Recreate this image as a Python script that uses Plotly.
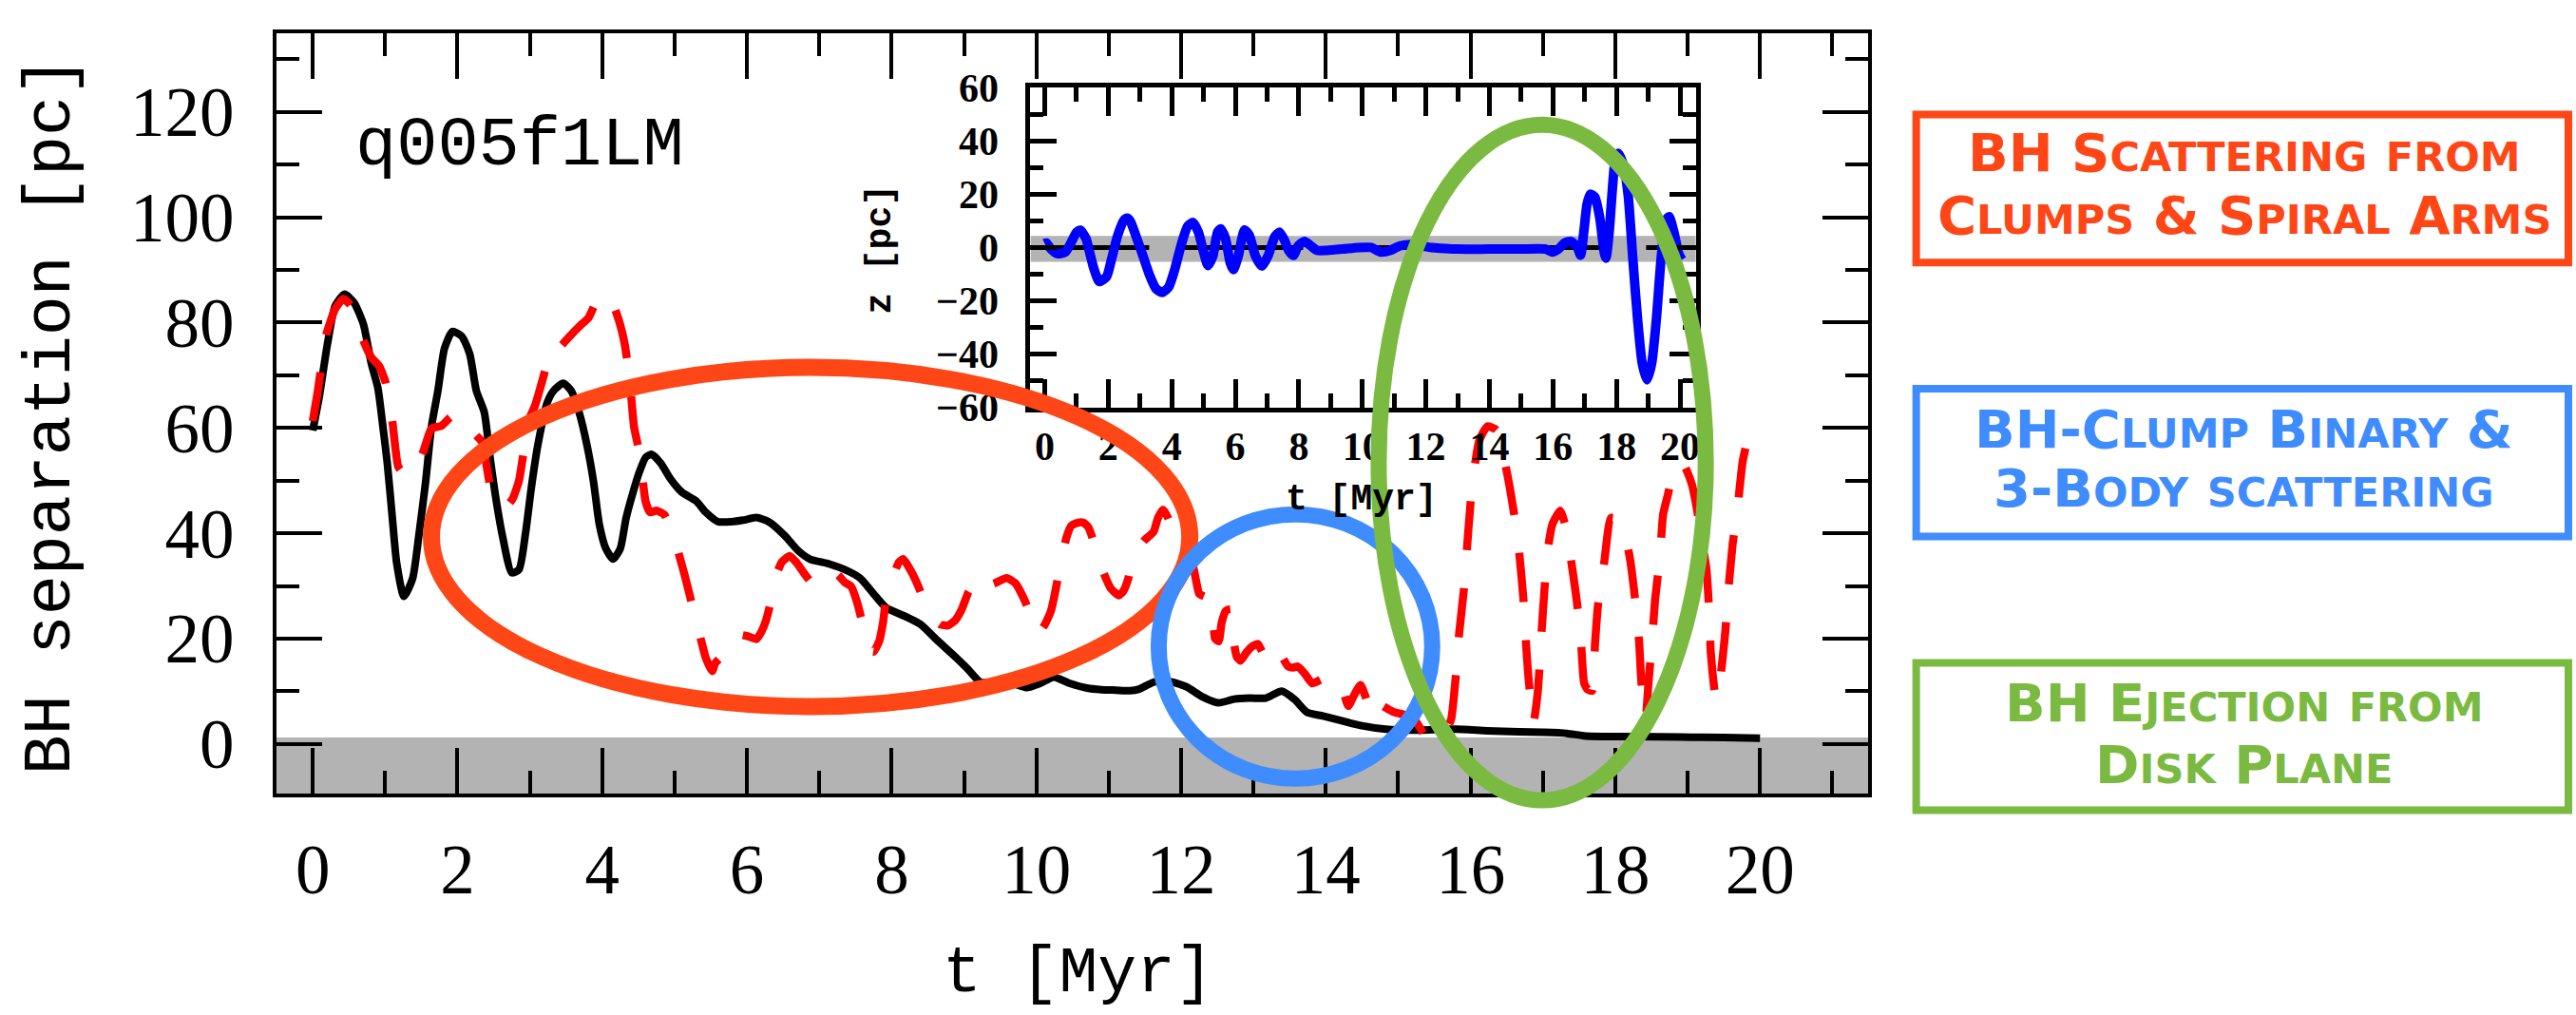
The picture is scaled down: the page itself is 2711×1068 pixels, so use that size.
import plotly.graph_objects as go

W, H = 2711, 1068

# ---------------- data ----------------
t_black = [0.0, 0.09, 0.2, 0.31, 0.44, 0.57, 0.70, 0.81, 0.90, 0.97, 1.03, 1.10, 1.16, 1.26, 1.38,
           1.47, 1.56, 1.64, 1.73, 1.82, 1.93, 2.06, 2.17, 2.26, 2.37, 2.45, 2.54, 2.63, 2.75, 2.85,
           2.94, 3.02, 3.11, 3.24, 3.33, 3.46, 3.57, 3.68, 3.79, 3.88, 3.96, 4.05, 4.15, 4.25, 4.33,
           4.42, 4.51, 4.60, 4.68, 4.81, 4.94, 5.10, 5.30, 5.43, 5.60, 5.78, 5.95, 6.13, 6.30, 6.52,
           6.70, 6.87, 7.13, 7.40, 7.57, 7.75, 7.92, 8.19, 8.40, 8.62, 8.89, 9.06, 9.23, 9.45, 9.67,
           9.87, 10.05, 10.24, 10.46, 10.70, 10.90, 11.10, 11.29, 11.42, 11.55, 11.64, 11.86, 12.08,
           12.30, 12.52, 12.73, 12.95, 13.17, 13.39, 13.57, 13.74, 13.96, 14.22, 14.48, 14.83, 15.18,
           15.50, 15.80, 16.23, 16.67, 17.00, 17.33, 17.59, 18.25, 18.90, 19.50, 20.0]
sep_black = [59.5, 65.9, 75.7, 83.2, 85.4, 83.8, 79.7, 72.2, 67.6, 60.2, 53.3, 42.9, 34.3, 28.0, 31.4,
             40.0, 49.8, 60.2, 67.1, 75.1, 78.3, 77.4, 74.0, 67.1, 63.0, 54.4, 45.8, 38.9, 32.5, 33.1,
             40.0, 48.6, 56.7, 64.8, 67.1, 68.5, 67.1, 63.0, 56.7, 49.8, 41.7, 37.1, 35.1, 37.1, 42.9,
             47.5, 51.5, 54.4, 55.0, 53.3, 50.4, 47.8, 46.1, 44.0, 42.2, 42.2, 42.5, 43.0, 42.2, 39.6,
             36.8, 35.1, 34.2, 32.8, 31.4, 28.5, 25.9, 24.2, 22.7, 19.8, 16.4, 14.1, 11.7, 11.8, 11.5,
             10.7, 11.5, 12.7, 11.5, 10.6, 10.3, 10.2, 10.1, 10.4, 11.3, 11.8, 11.8, 10.8,
             8.9, 7.8, 8.5, 8.7, 8.7, 10.0, 8.4, 6.0, 5.3, 4.4, 3.5, 2.8, 2.6,
             2.7, 2.8, 2.5, 2.3, 2.2, 2.0, 1.5, 1.4, 1.3, 1.2, 1.1]

t_red = [0.0, 0.07, 0.18, 0.31, 0.42, 0.53, 0.70, 0.81, 0.92, 1.01, 1.10, 1.18, 1.25, 1.40, 1.50,
         1.64, 1.78, 1.90, 1.99, 2.12, 2.23, 2.34, 2.45, 2.56, 2.65, 2.76, 2.85, 2.92, 2.98, 3.07,
         3.22, 3.28, 3.37, 3.44, 3.53, 3.70, 3.81, 3.90, 3.98, 4.07, 4.16, 4.24, 4.31, 4.38, 4.44,
         4.51, 4.55, 4.60, 4.66, 4.75, 4.86, 5.00, 5.07, 5.14, 5.30, 5.37, 5.43, 5.52, 5.56, 5.67,
         5.71, 5.80, 5.91, 6.02, 6.13, 6.20, 6.26, 6.30, 6.36, 6.41, 6.48, 6.59, 6.68, 6.77, 6.90,
         7.05, 7.14, 7.24, 7.35, 7.44, 7.52, 7.59, 7.68, 7.75, 7.83, 7.88, 7.92, 8.03, 8.10, 8.16,
         8.26, 8.36, 8.47, 8.56, 8.67, 8.78, 8.88, 8.97, 9.06, 9.14, 9.21, 9.28, 9.42, 9.59, 9.71,
         9.84, 9.93, 10.02, 10.11, 10.20, 10.24, 10.29, 10.33, 10.42, 10.48, 10.57, 10.65, 10.72,
         10.81, 10.92, 11.03, 11.14, 11.20, 11.27, 11.33, 11.48, 11.62, 11.68, 11.75, 11.82, 11.88,
         12.00, 12.14, 12.21, 12.25, 12.34, 12.41, 12.47, 12.52, 12.56, 12.62, 12.69, 12.72, 12.77,
         12.82, 12.91, 12.97, 13.06, 13.12, 13.17, 13.28, 13.32, 13.39, 13.48, 13.55, 13.61, 13.70,
         13.81, 13.93, 14.05, 14.16, 14.24, 14.31, 14.40, 14.48, 14.55, 14.62, 14.70, 14.79, 14.95,
         15.10, 15.23, 15.32, 15.38, 15.45, 15.55, 15.65, 15.73, 15.80, 15.84, 15.91, 15.95, 16.00,
         16.06, 16.12, 16.23, 16.36, 16.49, 16.60, 16.67, 16.73, 16.76, 16.80, 16.87, 16.93, 16.98,
         17.02, 17.07, 17.13, 17.24, 17.30, 17.37, 17.46, 17.52, 17.57, 17.62, 17.68, 17.72, 17.76,
         17.85, 17.94, 18.05, 18.11, 18.20, 18.27, 18.33, 18.36, 18.42, 18.46, 18.51, 18.55, 18.62,
         18.66, 18.73, 18.81, 18.92, 19.00, 19.06, 19.12, 19.17, 19.26, 19.30, 19.32, 19.39, 19.45,
         19.52, 19.56, 19.62, 19.69, 19.76, 19.84, 19.91, 20.00]
sep_red = [61.3, 67.0, 77.4, 82.6, 84.5, 83.2, 76.6, 73.4, 71.7, 68.5, 61.3, 52.7, 51.5, 55.5, 54.8,
           59.9, 60.4, 62.0, 62.5, 61.9, 59.0, 57.3, 49.2, 46.1, 44.8, 46.5, 50.0, 56.0, 61.3, 64.2,
           71.4, 75.1, 74.8, 75.7, 77.1, 79.5, 80.9, 83.5, 84.9, 85.4, 83.2, 80.0, 76.0, 69.1, 60.2,
           55.6, 51.2, 46.0, 44.0, 44.3, 43.5, 38.9, 35.5, 32.0, 23.3, 19.5, 16.4, 13.8, 15.3, 17.0,
           19.3, 20.2, 20.7, 20.4, 19.9, 21.3, 23.3, 25.3, 29.0, 32.2, 34.5, 35.7, 34.5, 32.8, 30.5,
           29.6, 30.7, 32.2, 30.7, 29.9, 27.0, 23.3, 18.0, 17.5, 19.6, 23.0, 27.1, 32.2, 34.5, 35.1,
           33.0, 30.2, 26.5, 24.2, 22.7, 22.5, 23.5, 25.6, 28.8, 30.5, 31.7, 30.0, 30.5, 31.5, 30.5,
           27.2, 24.0, 21.0, 22.5, 25.2, 27.5, 31.0, 34.3, 39.4, 41.4, 42.0, 42.0, 41.1,
           37.7, 32.8, 29.5, 28.2, 29.0, 31.4, 35.4, 38.5, 40.3, 42.9, 44.5, 42.9, 40.6,
           37.5, 35.1, 30.8, 28.5, 27.9, 27.3, 20.0, 19.5, 23.0, 25.3, 25.6, 20.0, 16.5,
           15.8, 17.5, 18.4, 19.0, 17.5, 16.7, 17.5, 18.7, 16.7, 14.7, 14.5, 14.7, 13.5,
           11.5, 12.2, 12.9, 12.4, 10.1, 7.2, 9.5, 11.2, 8.9, 6.0, 8.3, 7.2, 6.0,
           5.5, 4.6, 2.6, 1.2, 2.5, 1.8, 2.5, 4.6, 13.6, 20.7, 29.6, 37.1, 45.8,
           53.0, 57.6, 60.3, 59.6, 52.4, 43.8, 36.6, 27.6, 20.4, 12.7, 4.0, 10.0, 21.0,
           29.1, 37.1, 41.7, 44.3, 42.0, 36.6, 28.0, 20.8, 11.5, 10.3, 10.1, 19.0, 26.2,
           34.8, 42.9, 42.6, 41.1, 35.4, 27.9, 19.3, 11.8, 5.0, 11.8, 19.9, 27.4, 36.0,
           43.5, 47.5, 52.1, 53.5, 51.5, 49.2, 45.2, 40.9, 33.1, 24.5, 17.3, 8.5, 12.4,
           21.3, 28.8, 37.7, 44.9, 53.6, 58.5, 61.1, 62.5]

t_z = [0.0, 0.05, 0.2, 0.4, 0.65, 0.8, 1.0, 1.12, 1.3, 1.4, 1.55, 1.72, 1.95, 2.1, 2.3, 2.5, 2.6,
       2.7, 2.9, 3.1, 3.3, 3.5, 3.7, 3.9, 4.1, 4.3, 4.5, 4.67, 4.84, 4.99, 5.14, 5.29, 5.44, 5.54,
       5.69, 5.84, 5.94, 6.09, 6.29, 6.44, 6.64, 6.84, 7.04, 7.24, 7.39, 7.54, 7.68, 7.83, 7.98,
       8.18, 8.38, 8.58, 8.88, 9.38, 9.88, 10.28, 10.58, 10.88, 11.18, 11.58, 12.18, 12.97, 13.97,
       14.97, 15.77, 15.97, 16.17, 16.37, 16.57, 16.77, 16.87, 16.97, 17.07, 17.17, 17.32, 17.47,
       17.62, 17.67, 17.77, 17.87, 17.95, 18.05, 18.22, 18.37, 18.51, 18.66, 18.81, 18.96, 19.11,
       19.26, 19.41, 19.56, 19.66, 19.81, 19.96, 20.06]
z_blue = [1.5, 1.7, -0.6, -2.3, -1.7, 1.1, 5.7, 6.5, 3.4, -1.1, -8.0, -12.8, -10.9, -4.6, 4.6, 10.3,
          11.0, 9.7, 3.4, -3.4, -10.3, -15.4, -16.9, -14.9, -8.0, 1.1, 8.0, 9.4, 5.7, -1.1, -6.8,
          -3.4, 5.7, 7.0, 3.4, -5.7, -8.3, -3.4, 6.6, 4.6, -3.4, -7.0, -2.9, 4.0, 5.8, 2.9, -1.1,
          -3.0, 0.6, 2.3, 0.6, -1.1, -1.1, -0.6, 0.0, 0.0, -1.7, -1.1, 0.6, 1.1, 0.0, -0.6, -0.6,
          -0.6, -0.6, -1.7, -0.6, 1.7, 2.3, 0.0, -2.9, 5.7, 16.0, 20.0, 18.9, 11.4,
          -2.3, -4.0, 5.7, 21.7, 32.0, 35.4, 30.9, 19.4, -3.4, -26.3, -43.4, -49.7, -43.4,
          -26.3, -3.4, 10.3, 11.6, 5.7, -2.3, -4.6]

main_xticks = list(range(0, 21, 2))
main_yticks = list(range(0, 121, 20))
inset_xticks = list(range(0, 21, 2))
inset_yticks = list(range(-60, 61, 20))

run_label = "q005f1LM"
main_xtitle = "t [Myr]"
main_ytitle = "BH separation [pc]"
inset_xtitle = "t [Myr]"
inset_ytitle = "z [pc]"
box_lines = [
    ("BH Scattering from", "Clumps & Spiral Arms"),
    ("BH-Clump Binary &", "3-Body scattering"),
    ("BH Ejection from", "Disk Plane"),
]

# ---------------- geometry / style ----------------
ORANGE = "#FF4616"
BLUE = "#3F8CFF"
GREEN = "#7BBA41"
GRAY = "#B3B3B3"

MAIN_X_PX = (291.5, 1969.4)
MAIN_Y_PX = (850.0, 13.3)          # bottom, top
INSET_X_PX = (1086.0, 1787.4)
INSET_Y_PX = (425.0, 73.3)
X_RANGE = [-0.5, 21.5]
Y_RANGE = [-9.5, 135]
XI_RANGE = [-0.45, 20.5]
YI_RANGE = [-60, 60]


def px_x(p):
    return p / W


def px_y(p):
    return 1 - p / H


def data_x(v):
    f = (v - X_RANGE[0]) / (X_RANGE[1] - X_RANGE[0])
    return px_x(MAIN_X_PX[0] + f * (MAIN_X_PX[1] - MAIN_X_PX[0]))


def data_y(v):
    f = (v - Y_RANGE[0]) / (Y_RANGE[1] - Y_RANGE[0])
    return px_y(MAIN_Y_PX[0] + f * (MAIN_Y_PX[1] - MAIN_Y_PX[0]))


def smallcaps(s, small):
    out, run = "", ""
    for ch in s:
        if ch.islower():
            run += ch.upper()
        else:
            if run:
                out += "<span style='font-size:%dpx'>%s</span>" % (small, run)
                run = ""
            out += "&amp;" if ch == "&" else ch
    if run:
        out += "<span style='font-size:%dpx'>%s</span>" % (small, run)
    return out


fig = go.Figure()
fig.add_trace(go.Scatter(x=t_black, y=sep_black, mode="lines", xaxis="x", yaxis="y",
                         line=dict(color="black", width=8, shape="spline", smoothing=0.6)))
fig.add_trace(go.Scatter(x=t_red, y=sep_red, mode="lines", xaxis="x", yaxis="y",
                         line=dict(color="#FF0000", width=8.5, dash="52px,40px",
                                   shape="spline", smoothing=0.5)))
fig.add_trace(go.Scatter(x=t_z, y=z_blue, mode="lines", xaxis="x2", yaxis="y2",
                         line=dict(color="#0000FF", width=10, shape="spline", smoothing=0.6)))

main_tickfont = dict(family="Liberation Serif", size=73, color="black")
inset_tickfont = dict(family="Liberation Serif", size=42, color="black", weight="bold")

fig.update_layout(
    width=W, height=H, autosize=False,
    margin=dict(l=0, r=0, t=0, b=0),
    paper_bgcolor="white", plot_bgcolor="white", showlegend=False,
    xaxis=dict(domain=[px_x(MAIN_X_PX[0]), px_x(MAIN_X_PX[1])], range=X_RANGE, anchor="y",
               tickvals=main_xticks, ticks="inside", ticklen=48, tickwidth=4, tickcolor="black",
               showline=True, linewidth=4, linecolor="black", mirror="ticks",
               showgrid=False, zeroline=False, tickfont=main_tickfont, ticklabelstandoff=13,
               minor=dict(dtick=1, tick0=0, ticks="inside", ticklen=24, tickwidth=4,
                          tickcolor="black", showgrid=False)),
    yaxis=dict(domain=[px_y(MAIN_Y_PX[0]), px_y(MAIN_Y_PX[1])], range=Y_RANGE, anchor="x",
               tickvals=main_yticks, ticks="inside", ticklen=48, tickwidth=4, tickcolor="black",
               showline=True, linewidth=4, linecolor="black", mirror="ticks",
               showgrid=False, zeroline=False, tickfont=main_tickfont, ticklabelstandoff=26,
               minor=dict(dtick=10, tick0=0, ticks="inside", ticklen=24, tickwidth=4,
                          tickcolor="black", showgrid=False)),
    xaxis2=dict(domain=[px_x(INSET_X_PX[0]), px_x(INSET_X_PX[1])], range=XI_RANGE, anchor="y2",
                tickvals=inset_xticks, ticks="inside", ticklen=30, tickwidth=5, tickcolor="black",
                showline=True, linewidth=5, linecolor="black", mirror="ticks",
                showgrid=False, zeroline=False, tickfont=inset_tickfont, ticklabelstandoff=0,
                minor=dict(dtick=1, tick0=0, ticks="inside", ticklen=15, tickwidth=5,
                           tickcolor="black", showgrid=False)),
    yaxis2=dict(domain=[px_y(INSET_Y_PX[0]), px_y(INSET_Y_PX[1])], range=YI_RANGE, anchor="x2",
                tickvals=inset_yticks, ticks="inside", ticklen=28, tickwidth=5, tickcolor="black",
                showline=True, linewidth=5, linecolor="black", mirror="ticks",
                showgrid=False, zeroline=False, tickfont=inset_tickfont, ticklabelstandoff=20,
                minor=dict(dtick=10, tick0=0, ticks="inside", ticklen=14, tickwidth=5,
                           tickcolor="black", showgrid=False)),
)

shapes = []
# gray "disk plane" bands
shapes.append(dict(type="rect", xref="x", yref="y", x0=X_RANGE[0], x1=X_RANGE[1], y0=Y_RANGE[0],
                   y1=1.2, fillcolor=GRAY, line=dict(width=0), layer="below"))
shapes.append(dict(type="rect", xref="x2", yref="y2", x0=XI_RANGE[0], x1=XI_RANGE[1], y0=-5.4,
                   y1=4.3, fillcolor=GRAY, line=dict(width=0), layer="below"))
shapes.append(dict(type="line", xref="x2", yref="y2", x0=XI_RANGE[0], x1=XI_RANGE[1], y0=0, y1=0,
                   line=dict(color="black", width=5, dash="125px,37px"), layer="below"))

# highlight ellipses (in main-axis data units, converted to paper)
ellipses = [
    (ORANGE, 18, 1.64, 12.12, 7.1, 71.5),
    (BLUE, 17, 11.69, 15.47, -6.6, 43.6),
    (GREEN, 17, 14.73, 19.25, -10.7, 117.6),
]
for col, lw, xa, xb, ya, yb in ellipses:
    shapes.append(dict(type="circle", xref="paper", yref="paper",
                       x0=data_x(xa), x1=data_x(xb), y0=data_y(ya), y1=data_y(yb),
                       line=dict(color=col, width=lw), fillcolor="rgba(0,0,0,0)", layer="above"))

# legend boxes on the right
box_rows = [(103, 265.6, ORANGE), (404.5, 567, BLUE), (706, 868, GREEN)]
for top, bot, col in box_rows:
    shapes.append(dict(type="rect", xref="paper", yref="paper",
                       x0=px_x(2019.6), x1=px_x(2707.0), y0=px_y(bot), y1=px_y(top),
                       line=dict(color=col, width=8), fillcolor="rgba(0,0,0,0)", layer="above"))
fig.update_layout(shapes=shapes)

ann = []
ann.append(dict(text=run_label, x=px_x(373), y=px_y(138), xref="paper", yref="paper",
                xanchor="left", yanchor="middle", showarrow=False,
                font=dict(family="Liberation Mono", size=72, color="black")))
ann.append(dict(text=main_xtitle, x=px_x(1137), y=px_y(1048), xref="paper", yref="paper",
                xanchor="center", yanchor="middle", showarrow=False,
                font=dict(family="Liberation Mono", size=68, color="black")))
ann.append(dict(text=main_ytitle, x=px_x(54), y=px_y(434), xref="paper", yref="paper",
                xanchor="center", yanchor="middle", showarrow=False, textangle=-90,
                font=dict(family="Liberation Mono", size=70, color="black")))
ann.append(dict(text=inset_xtitle, x=px_x(1435), y=px_y(526), xref="paper", yref="paper",
                xanchor="center", yanchor="middle", showarrow=False,
                font=dict(family="Liberation Mono", size=38, color="black", weight="bold")))
ann.append(dict(text=inset_ytitle, x=px_x(928), y=px_y(251), xref="paper", yref="paper",
                xanchor="center", yanchor="middle", showarrow=False, textangle=-90,
                font=dict(family="Liberation Mono", size=38, color="black", weight="bold")))

line_centres = [(145, 214), (449, 514), (750, 818)]
box_cols = [ORANGE, BLUE, GREEN]
for (l1, l2), (y1, y2), col in zip(box_lines, line_centres, box_cols):
    for txt, yc in ((l1, y1), (l2, y2)):
        ann.append(dict(text=smallcaps(txt, 43), x=px_x(2365), y=px_y(yc), xref="paper",
                        yref="paper", xanchor="center", yanchor="middle", showarrow=False,
                        font=dict(family="DejaVu Sans", size=56, color=col, weight="bold")))
fig.update_layout(annotations=ann)

fig.write_html("out.html")
